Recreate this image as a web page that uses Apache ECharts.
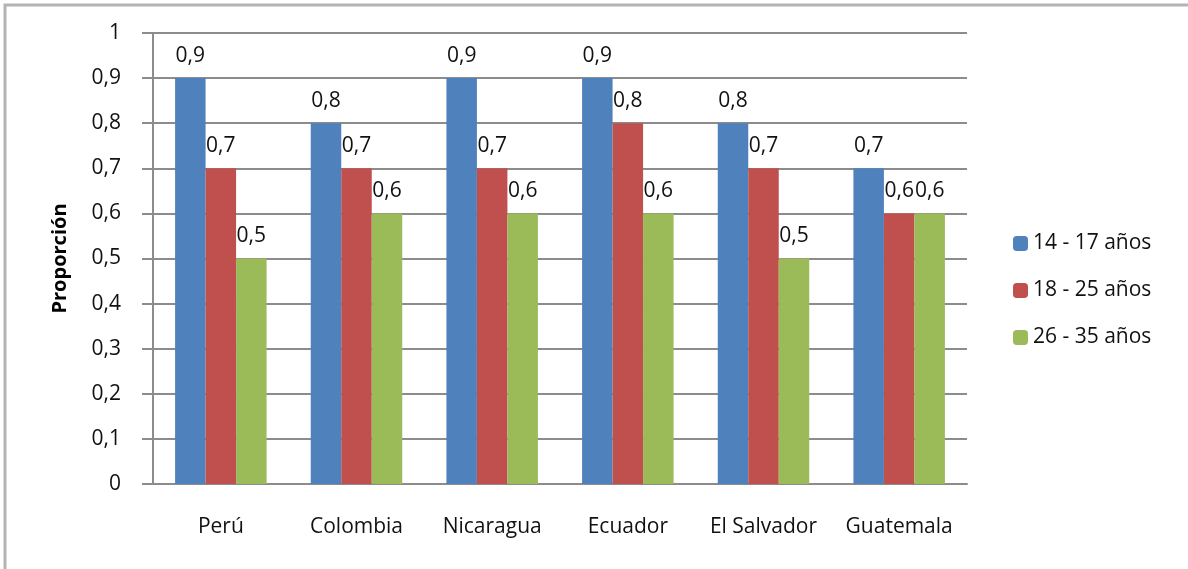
<!DOCTYPE html>
<html>
<head>
<meta charset="utf-8">
<script src="https://cdn.jsdelivr.net/npm/echarts@6/dist/echarts.min.js"></script>
<style>
  html, body { margin: 0; padding: 0; background: #fff; }
  #chart { width: 1188px; height: 569px; }
</style>
</head>
<body>
<div id="chart"></div>
<script>
// datos
var paises = ['Perú', 'Colombia', 'Nicaragua', 'Ecuador', 'El Salvador', 'Guatemala'];
var grupos = ['14 - 17 años', '18 - 25 años', '26 - 35 años'];
var edad14a17 = [0.9, 0.8, 0.9, 0.9, 0.8, 0.7];
var edad18a25 = [0.7, 0.7, 0.7, 0.8, 0.7, 0.6];
var edad26a35 = [0.5, 0.6, 0.6, 0.6, 0.5, 0.6];
var colores = ['#4F81BD', '#C0504D', '#9BBB59'];

var fuente = '"Open Sans", sans-serif';
var tam = 21;

function coma(v) {
  return Number(Number(v).toFixed(1)).toString().replace('.', ',');
}

function serie(nombre, datos) {
  return {
    name: nombre,
    type: 'bar',
    data: datos,
    barWidth: 30.5,
    barGap: '0%',
    label: {
      show: true,
      position: 'top',
      distance: 12,
      color: '#111',
      fontFamily: fuente,
      fontSize: tam,
      formatter: function (p) { return coma(p.value); }
    }
  };
}

var chart = echarts.init(document.getElementById('chart'));

var option = {
  backgroundColor: '#ffffff',
  color: colores,
  animation: false,
  graphic: [{
    type: 'rect',
    shape: { x: 5, y: 5, width: 1200, height: 600 },
    style: { fill: 'none', stroke: '#b4b4b4', lineWidth: 3 }
  }],
  grid: { left: 153, top: 33, right: 221, bottom: 85 },
  legend: {
    orient: 'vertical',
    left: 1008,
    top: 228,
    itemWidth: 15,
    itemHeight: 15,
    itemGap: 26,
    textStyle: { fontFamily: fuente, fontSize: tam, color: '#111' },
    data: grupos
  },
  xAxis: {
    type: 'category',
    data: paises,
    axisLine: { lineStyle: { color: '#8c8c8c', width: 2 } },
    axisTick: { show: false },
    axisLabel: { interval: 0, hideOverlap: false, margin: 33, fontFamily: fuente, fontSize: tam, color: '#111' }
  },
  yAxis: {
    type: 'value',
    min: 0,
    max: 1,
    interval: 0.1,
    name: 'Proporción',
    nameLocation: 'middle',
    nameGap: 83,
    nameTextStyle: { fontFamily: fuente, fontSize: 20, fontWeight: 'bold', color: '#000' },
    axisLine: { show: true, lineStyle: { color: '#8c8c8c', width: 2 } },
    axisTick: { show: true, length: 11, lineStyle: { color: '#8c8c8c', width: 2 } },
    splitLine: { lineStyle: { color: '#8c8c8c', width: 2 } },
    axisLabel: {
      margin: 32,
      fontFamily: fuente,
      fontSize: tam,
      color: '#111',
      formatter: coma
    }
  },
  series: [
    serie(grupos[0], edad14a17),
    serie(grupos[1], edad18a25),
    serie(grupos[2], edad26a35)
  ]
};

chart.setOption(option);
</script>
</body>
</html>
